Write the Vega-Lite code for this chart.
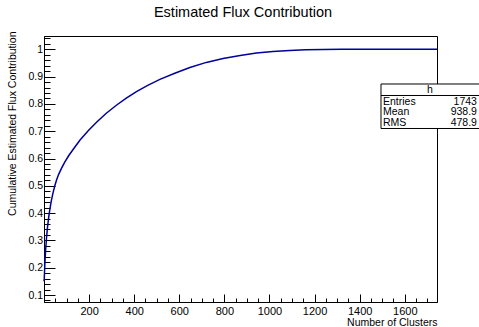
{
  "$schema": "https://vega.github.io/schema/vega-lite/v6.json",
  "width": 393,
  "height": 266,
  "autosize": {"type": "none"},
  "padding": {"left": 44, "top": 36, "right": 42, "bottom": 25},
  "background": "white",
  "config": {
    "view": {"stroke": "#000000", "strokeWidth": 1},
    "font": "Liberation Sans",
    "axis": {"labelFont": "Liberation Sans", "titleFont": "Liberation Sans", "labelColor": "#000000", "titleColor": "#000000", "tickColor": "#000000", "domainColor": "#000000", "grid": false, "titleFontWeight": "normal", "tickWidth": 1, "domainWidth": 1, "labelOverlap": false, "labelFlush": false}
  },
  "title": {"text": "Estimated Flux Contribution", "font": "Liberation Sans", "fontSize": 14.5, "fontWeight": "normal", "color": "#000000", "anchor": "middle", "frame": "group", "baseline": "alphabetic", "offset": 0, "dx": 2.5},
  "data": {"values": [
    {"clusters": 0, "cumulative": 0.15},
    {"clusters": 1, "cumulative": 0.16},
    {"clusters": 2, "cumulative": 0.178},
    {"clusters": 4, "cumulative": 0.216},
    {"clusters": 7, "cumulative": 0.262},
    {"clusters": 11, "cumulative": 0.308},
    {"clusters": 16, "cumulative": 0.352},
    {"clusters": 21, "cumulative": 0.386},
    {"clusters": 26, "cumulative": 0.414},
    {"clusters": 32, "cumulative": 0.443},
    {"clusters": 40, "cumulative": 0.474},
    {"clusters": 48, "cumulative": 0.50},
    {"clusters": 56, "cumulative": 0.522},
    {"clusters": 65, "cumulative": 0.542},
    {"clusters": 78, "cumulative": 0.565},
    {"clusters": 92, "cumulative": 0.587},
    {"clusters": 110, "cumulative": 0.611},
    {"clusters": 129, "cumulative": 0.633},
    {"clusters": 159, "cumulative": 0.667},
    {"clusters": 196, "cumulative": 0.702},
    {"clusters": 233, "cumulative": 0.733},
    {"clusters": 275, "cumulative": 0.765},
    {"clusters": 321, "cumulative": 0.795},
    {"clusters": 365, "cumulative": 0.821},
    {"clusters": 410, "cumulative": 0.845},
    {"clusters": 460, "cumulative": 0.868},
    {"clusters": 514, "cumulative": 0.890},
    {"clusters": 580, "cumulative": 0.9125},
    {"clusters": 647, "cumulative": 0.9335},
    {"clusters": 720, "cumulative": 0.952},
    {"clusters": 794, "cumulative": 0.966},
    {"clusters": 870, "cumulative": 0.977},
    {"clusters": 942, "cumulative": 0.986},
    {"clusters": 1015, "cumulative": 0.992},
    {"clusters": 1090, "cumulative": 0.996},
    {"clusters": 1160, "cumulative": 0.998},
    {"clusters": 1238, "cumulative": 0.9995},
    {"clusters": 1320, "cumulative": 1.0},
    {"clusters": 1743, "cumulative": 1.0}
  ]},
  "layer": [
    {
      "mark": {"type": "line", "color": "#000099", "strokeWidth": 1.5},
      "encoding": {
        "x": {"field": "clusters", "type": "quantitative", "scale": {"domain": [0, 1743], "nice": false, "zero": false},
          "axis": {"orient": "bottom", "values": [200, 400, 600, 800, 1000, 1200, 1400, 1600], "format": "d", "tickSize": -8, "labelPadding": 11, "labelFontSize": 11, "title": "Number of Clusters", "titleFontSize": 10.5, "titleAlign": "right", "titleBaseline": "alphabetic", "titleX": 393, "titleY": 23}},
        "y": {"field": "cumulative", "type": "quantitative", "scale": {"domain": [0.0744, 1.0487], "nice": false, "zero": false},
          "axis": {"orient": "left", "values": [0.1, 0.2, 0.3, 0.4, 0.5, 0.6, 0.7, 0.8, 0.9, 1], "format": "~g", "tickSize": -11, "labelPadding": 12.5, "labelFontSize": 10.5, "title": "Cumulative Estimated Flux Contribution", "titleFontSize": 10.5, "titleAngle": -90, "titleAlign": "right", "titleBaseline": "middle", "titleX": -32, "titleY": -5}}
      }
    },
    {
      "data": {"values": [{}]},
      "mark": {"type": "rect", "fill": "white", "stroke": "#000000", "strokeWidth": 1},
      "encoding": {
        "x": {"datum": 1494.6, "type": "quantitative", "scale": {"domain": [0, 1743], "nice": false, "zero": false},
          "axis": {"orient": "bottom", "values": [50, 100, 150, 200, 250, 300, 350, 400, 450, 500, 550, 600, 650, 700, 750, 800, 850, 900, 950, 1000, 1050, 1100, 1150, 1200, 1250, 1300, 1350, 1400, 1450, 1500, 1550, 1600, 1650, 1700], "tickSize": -4, "labels": false, "domain": false, "title": null}},
        "x2": {"datum": 1940},
        "y": {"datum": 0.8729, "type": "quantitative", "scale": {"domain": [0.0744, 1.0487], "nice": false, "zero": false},
          "axis": {"orient": "left", "values": [0.08, 0.1, 0.12, 0.14, 0.16, 0.18, 0.2, 0.22, 0.24, 0.26, 0.28, 0.3, 0.32, 0.34, 0.36, 0.38, 0.4, 0.42, 0.44, 0.46, 0.48, 0.5, 0.52, 0.54, 0.56, 0.58, 0.6, 0.62, 0.64, 0.66, 0.68, 0.7, 0.72, 0.74, 0.76, 0.78, 0.8, 0.82, 0.84, 0.86, 0.88, 0.9, 0.92, 0.94, 0.96, 0.98, 1, 1.02, 1.04], "tickSize": -6, "labels": false, "domain": false, "title": null}},
        "y2": {"datum": 0.7099}
      }
    },
    {
      "data": {"values": [{}]},
      "mark": {"type": "rule", "color": "#000000", "strokeWidth": 1},
      "encoding": {
        "x": {"datum": 1494.6, "type": "quantitative", "scale": {"domain": [0, 1743], "nice": false, "zero": false}, "axis": null},
        "x2": {"datum": 1940},
        "y": {"datum": 0.8308, "type": "quantitative", "scale": {"domain": [0.0744, 1.0487], "nice": false, "zero": false}, "axis": null}
      }
    },
    {
      "data": {"values": [{}]},
      "mark": {"type": "text", "text": "h", "font": "Liberation Sans", "fontSize": 10.5, "align": "center", "baseline": "middle", "color": "#000000"},
      "encoding": {
        "x": {"datum": 1712, "type": "quantitative", "scale": {"domain": [0, 1743], "nice": false, "zero": false}, "axis": null},
        "y": {"datum": 0.8509, "type": "quantitative", "scale": {"domain": [0.0744, 1.0487], "nice": false, "zero": false}, "axis": null}
      }
    },
    {
      "data": {"values": [{}]},
      "mark": {"type": "text", "text": ["Entries", "Mean", "RMS"], "font": "Liberation Sans", "fontSize": 10.5, "lineHeight": 10.7, "align": "left", "baseline": "alphabetic", "color": "#000000"},
      "encoding": {
        "x": {"datum": 1503.5, "type": "quantitative", "scale": {"domain": [0, 1743], "nice": false, "zero": false}, "axis": null},
        "y": {"datum": 0.7971, "type": "quantitative", "scale": {"domain": [0.0744, 1.0487], "nice": false, "zero": false}, "axis": null}
      }
    },
    {
      "data": {"values": [{}]},
      "mark": {"type": "text", "text": ["1743", "938.9", "478.9"], "font": "Liberation Sans", "fontSize": 10.5, "lineHeight": 10.7, "align": "right", "baseline": "alphabetic", "color": "#000000"},
      "encoding": {
        "x": {"datum": 1920, "type": "quantitative", "scale": {"domain": [0, 1743], "nice": false, "zero": false}, "axis": null},
        "y": {"datum": 0.7971, "type": "quantitative", "scale": {"domain": [0.0744, 1.0487], "nice": false, "zero": false}, "axis": null}
      }
    }
  ],
  "resolve": {"axis": {"x": "independent", "y": "independent"}}
}
